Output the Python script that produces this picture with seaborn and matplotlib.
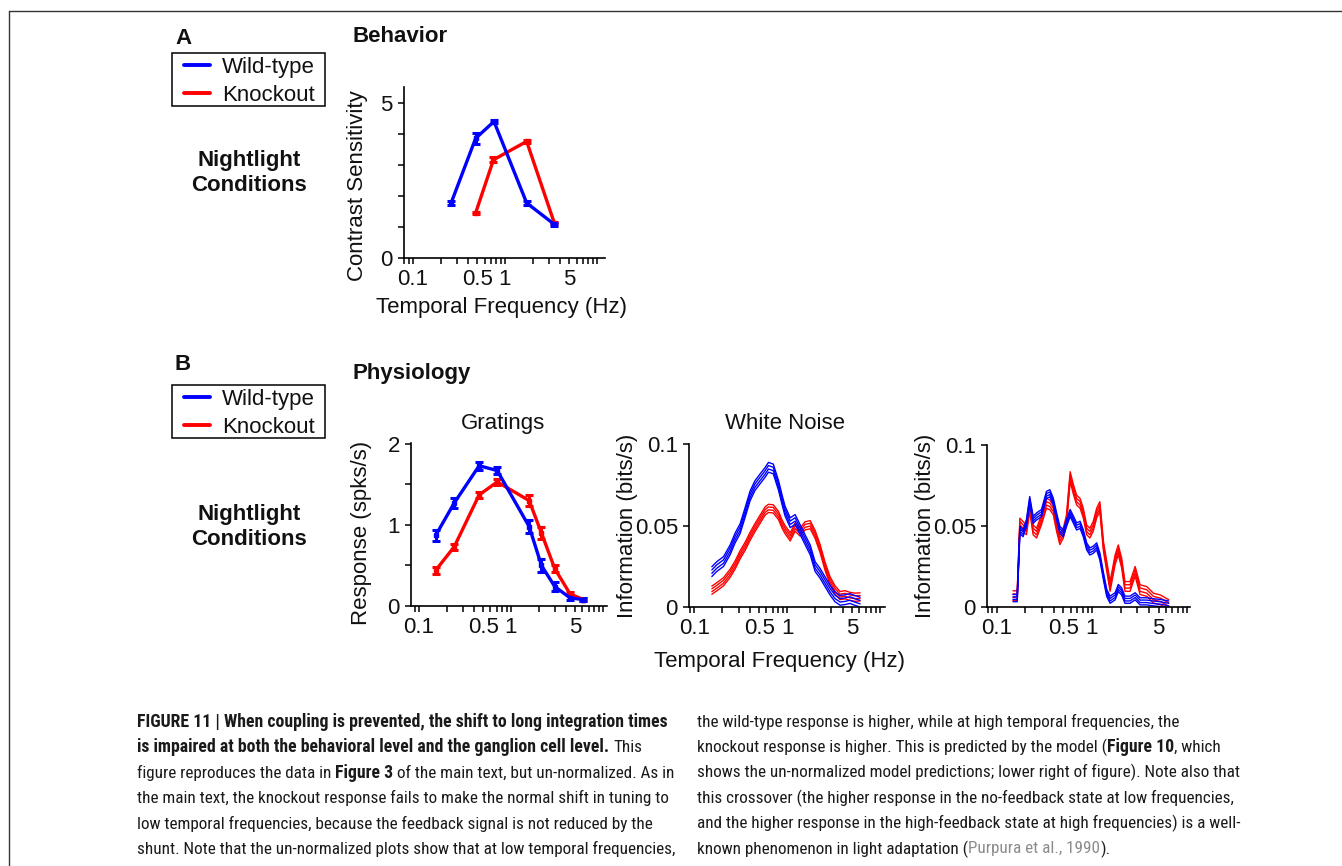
import os
import numpy as np
import pandas as pd
import matplotlib
matplotlib.use("Agg")
import matplotlib.pyplot as plt
import seaborn as sns
from matplotlib.lines import Line2D
from matplotlib.patches import Rectangle
from matplotlib.ticker import LogLocator, NullFormatter, FixedLocator
from matplotlib import font_manager
from matplotlib.font_manager import FontProperties

# ---- data ----
# A: behaviour (contrast sensitivity)
beh_f_wt = [0.26, 0.48, 0.76, 1.72, 3.44]
beh_wt = [1.77, 3.85, 4.39, 1.77, 1.08]
beh_wt_err = [0.06, 0.17, 0.05, 0.06, 0.06]
beh_f_ko = [0.48, 0.75, 1.72, 3.44]
beh_ko = [1.45, 3.16, 3.75, 1.12]
beh_ko_err = [0.04, 0.08, 0.04, 0.04]

# B: gratings
gr_f = [0.152, 0.242, 0.452, 0.71, 1.58, 2.15, 3.0, 4.4, 6.1]
gr_wt = [0.87, 1.27, 1.73, 1.67, 0.98, 0.50, 0.24, 0.10, 0.08]
gr_wt_err = [0.07, 0.06, 0.05, 0.04, 0.08, 0.08, 0.05, 0.03, 0.02]
gr_ko = [0.44, 0.73, 1.37, 1.53, 1.30, 0.90, 0.46, 0.15, 0.08]
gr_ko_err = [0.04, 0.04, 0.04, 0.04, 0.07, 0.07, 0.04, 0.02, 0.02]

# B: white noise information
wn_f = [0.155, 0.175, 0.207, 0.244, 0.276, 0.312, 0.353, 0.40, 0.45, 0.51,
        0.58, 0.63, 0.71, 0.81, 0.88, 0.95, 1.08, 1.22, 1.38, 1.56,
        1.77, 2.0, 2.26, 2.56, 2.9, 3.28, 3.71, 4.2, 4.75, 5.38, 6.1]
wn_wt = [0.0217, 0.0248, 0.0279, 0.0351, 0.0424, 0.0480, 0.0579, 0.0682, 0.0744, 0.0785,
         0.0826, 0.0857, 0.0847, 0.0744, 0.0660, 0.0589, 0.0517, 0.0537, 0.0475, 0.0413,
         0.0351, 0.0248, 0.0207, 0.0155, 0.0103, 0.0062, 0.0041, 0.0045, 0.0052, 0.0040, 0.0030]
wn_ko = [0.0103, 0.0124, 0.0155, 0.0207, 0.0258, 0.0320, 0.0372, 0.0434, 0.0486, 0.0537,
         0.0589, 0.0605, 0.0602, 0.0560, 0.0510, 0.0475, 0.0430, 0.0490, 0.0460, 0.0498,
         0.0505, 0.0445, 0.0360, 0.0250, 0.0160, 0.0105, 0.0070, 0.0075, 0.0065, 0.0060, 0.0062]
wn_sem_wt = 0.0030
wn_sem_ko = 0.0025

# B: white noise, third panel
wn2_f = [0.148, 0.164, 0.175, 0.189, 0.205, 0.222, 0.241, 0.262, 0.295, 0.333,
         0.361, 0.392, 0.425, 0.46, 0.50, 0.54, 0.59, 0.64, 0.69, 0.75,
         0.81, 0.88, 0.95, 1.03, 1.12, 1.21, 1.32, 1.43, 1.55, 1.75,
         1.89, 2.05, 2.22, 2.51, 2.84, 3.2, 3.76, 4.42, 5.2, 6.4]
wn2_wt = [0.0055, 0.0055, 0.0476, 0.0456, 0.0518, 0.0660, 0.0538, 0.0559, 0.0580, 0.0692,
          0.0702, 0.0651, 0.0559, 0.0476, 0.0456, 0.0518, 0.0580, 0.0538, 0.0497, 0.0507,
          0.0456, 0.0374, 0.0343, 0.0353, 0.0374, 0.0312, 0.0189, 0.0086, 0.0045, 0.0066,
          0.0117, 0.0096, 0.0045, 0.0045, 0.0066, 0.0035, 0.0035, 0.0029, 0.0025, 0.0015]
wn2_ko = [0.0070, 0.0070, 0.0518, 0.0497, 0.0476, 0.0620, 0.0476, 0.0456, 0.0538, 0.0640,
          0.0630, 0.0600, 0.0497, 0.0415, 0.0456, 0.0538, 0.0805, 0.0723, 0.0660, 0.0640,
          0.0580, 0.0476, 0.0456, 0.0497, 0.0580, 0.0620, 0.0374, 0.0251, 0.0127, 0.0292,
          0.0353, 0.0271, 0.0127, 0.0127, 0.0220, 0.0107, 0.0096, 0.0055, 0.0045, 0.0015]
wn2_sem_wt = 0.0022
wn2_sem_ko = 0.0030

genotypes = ["Wild-type", "Knockout"]
colors = {"Wild-type": "#0000ff", "Knockout": "#ff0000"}
freq_ticks = [0.1, 0.5, 1, 5]
freq_labels = ["0.1", "0.5", "1", "5"]

# ---- style ----
sns.set_theme(style="ticks")
plt.rcParams["font.family"] = ["Liberation Sans", "DejaVu Sans"]
plt.rcParams["axes.linewidth"] = 1.2

W, H = 1342, 866
fig = plt.figure(figsize=(W / 100, H / 100), dpi=100)


def px(x, y):
    return x / W, 1 - y / H


def ax_at(l, t, r, b):
    return fig.add_axes([l / W, 1 - b / H, (r - l) / W, (b - t) / H])


def style_axes(ax, xlim, ylim, yticks, ylabels, yminor=None):
    ax.set_xscale("log")
    ax.set_xlim(xlim)
    ax.set_ylim(ylim)
    ax.set_facecolor("white")
    ax.grid(False)
    ax.xaxis.set_major_locator(FixedLocator(freq_ticks))
    ax.set_xticklabels(freq_labels)
    ax.xaxis.set_minor_locator(LogLocator(base=10, subs=np.arange(1, 10), numticks=20))
    ax.xaxis.set_minor_formatter(NullFormatter())
    ax.set_yticks(yticks)
    ax.set_yticklabels(ylabels)
    if yminor is not None:
        ax.yaxis.set_minor_locator(FixedLocator(yminor))
    sns.despine(ax=ax)
    for s in ("left", "bottom"):
        ax.spines[s].set_color("black")
        ax.spines[s].set_linewidth(1.2)
    ax.tick_params(which="both", direction="out", length=4, width=1.1,
                   color="black", labelsize=16, pad=4, labelcolor="#111111")
    ax.set_xlabel("")
    ax.set_ylabel("")


def err_line(ax, f, y, e, c):
    ax.errorbar(f, y, yerr=e, color=c, lw=2.4, elinewidth=2.2, capsize=3,
                capthick=2.2, marker="s", ms=3.5, mec=c, mfc=c, zorder=3)


def bundle(ax, f, mean, sem, genotype):
    rows = []
    for k in (-1.0, -0.35, 0.35, 1.0):
        for fi, m in zip(f, mean):
            rows.append({"freq": fi, "info": m + k * sem, "trace": k})
    df = pd.DataFrame(rows)
    sns.lineplot(data=df, x="freq", y="info", units="trace", estimator=None,
                 color=colors[genotype], lw=1.0, ax=ax, legend=False, sort=False)


# ---- A: behaviour ----
axA = ax_at(404, 87, 605, 258)
err_line(axA, beh_f_ko, beh_ko, beh_ko_err, colors["Knockout"])
err_line(axA, beh_f_wt, beh_wt, beh_wt_err, colors["Wild-type"])
style_axes(axA, (0.08, 12.2), (0, 5.5), [0, 5], ["0", "5"], [1, 2, 3, 4])

# ---- B: gratings ----
axG = ax_at(411, 443, 607, 606)
err_line(axG, gr_f, gr_ko, gr_ko_err, colors["Knockout"])
err_line(axG, gr_f, gr_wt, gr_wt_err, colors["Wild-type"])
style_axes(axG, (0.082, 11.1), (0, 2.01), [0, 1, 2], ["0", "1", "2"], [0.5, 1.5])

# ---- B: white noise ----
axW = ax_at(689, 444, 885, 607)
bundle(axW, wn_f, wn_ko, wn_sem_ko, "Knockout")
bundle(axW, wn_f, wn_wt, wn_sem_wt, "Wild-type")
style_axes(axW, (0.088, 11.3), (0, 0.1), [0, 0.05, 0.1], ["0", "0.05", "0.1"])

axW2 = ax_at(987, 445, 1190, 607)
bundle(axW2, wn2_f, wn2_ko, wn2_sem_ko, "Knockout")
bundle(axW2, wn2_f, wn2_wt, wn2_sem_wt, "Wild-type")
style_axes(axW2, (0.079, 10.7), (0, 0.1), [0, 0.05, 0.1], ["0", "0.05", "0.1"])

# ---- labels ----
def ftext(x, y, s, **kw):
    kw.setdefault("fontsize", 16)
    kw.setdefault("color", "#111111")
    fig.text(*px(x, y), s, **kw)


ftext(358, 186, "Contrast Sensitivity", rotation=90, ha="center", va="center")
ftext(362, 533, "Response (spks/s)", rotation=90, ha="center", va="center")
ftext(627, 526, "Information (bits/s)", rotation=90, ha="center", va="center")
ftext(925, 526, "Information (bits/s)", rotation=90, ha="center", va="center")
ftext(501, 307, "Temporal Frequency (Hz)", ha="center", va="center")
ftext(779, 661, "Temporal Frequency (Hz)", ha="center", va="center")
ftext(503, 423, "Gratings", ha="center", va="center")
ftext(785, 423, "White Noise", ha="center", va="center")

ftext(183, 38, "A", ha="center", va="center", fontweight="bold")
ftext(183, 364, "B", ha="center", va="center", fontweight="bold")
ftext(352, 37, "Behavior", ha="left", va="center", fontweight="bold")
ftext(352, 373, "Physiology", ha="left", va="center", fontweight="bold")
ftext(249, 173, "Nightlight\nConditions", ha="center", va="center",
      fontweight="bold", linespacing=1.2)
ftext(249, 527, "Nightlight\nConditions", ha="center", va="center",
      fontweight="bold", linespacing=1.2)

# legends: frame drawn as a box, entries placed inside it
handles = [Line2D([], [], color=colors[g], lw=2.8) for g in genotypes]
for top in (53, 385):
    fig.add_artist(Rectangle(px(172, top + 53), 153 / W, 53 / H, fill=False,
                             edgecolor="black", lw=1.1))
    leg = fig.legend(handles, genotypes, loc="upper left",
                     bbox_to_anchor=px(184, top + 4),
                     frameon=False, fontsize=16, handlelength=1.15,
                     handletextpad=0.55, borderpad=0, labelspacing=0.3,
                     borderaxespad=0)
    for t in leg.get_texts():
        t.set_color("#111111")

# frame around the figure panel
fig.add_artist(Line2D([9 / W, 9 / W], [0, 1 - 11 / H], color="#333333", lw=1.0))
fig.add_artist(Line2D([9 / W, 1], [1 - 11 / H, 1 - 11 / H], color="#333333", lw=1.0))


# ---- caption (condensed face if one is installed) ----
def find_face(keys, bold):
    for key in keys:
        for fe in font_manager.fontManager.ttflist:
            base = os.path.basename(fe.fname).lower()
            if key in base and ("bold" in base) == bold and "italic" not in base \
                    and "oblique" not in base and "light" not in base \
                    and "medium" not in base and "black" not in base \
                    and "thin" not in base and "semi" not in base:
                return FontProperties(fname=fe.fname)
    return None


narrow_keys = ["liberationsansnarrow", "robotocondensed", "roboto_condensed",
               "dejavusanscondensed"]
fp_reg = find_face(narrow_keys, False)
fp_bold = find_face(narrow_keys, True)
if fp_reg is None or fp_bold is None:
    fp_reg = FontProperties(family=["Liberation Sans", "DejaVu Sans"])
    fp_bold = FontProperties(family=["Liberation Sans", "DejaVu Sans"], weight="bold")

renderer = fig.canvas.get_renderer()
faces = {"normal": fp_reg, "bold": fp_bold}


def measure(s, weight, size):
    t = fig.text(0, 0, s, fontproperties=faces[weight], fontsize=size)
    w = t.get_window_extent(renderer=renderer).width
    t.remove()
    return w


first_line = "FIGURE 11 | When coupling is prevented, the shift to long integration times"
ref_line = "the main text, the knockout response fails to make the normal shift in tuning to"
sizes = {"bold": min(13.5, 10 * 529 / measure(first_line, "bold", 10)),
         "normal": min(13.5, 10 * 528 / measure(ref_line, "normal", 10))}


def caption_line(x, y, parts):
    for s, weight, color in parts:
        size = sizes[weight]
        lead = len(s) - len(s.lstrip(" "))
        if lead:
            x += measure("aa" + " " * lead + "a", weight, size) - measure("aaa", weight, size)
        body = s.strip(" ")
        if body:
            fig.text(*px(x, y), body, fontproperties=faces[weight], fontsize=size,
                     color=color, ha="left", va="center")
            x += measure(body, weight, size)
        trail = len(s) - len(s.rstrip(" "))
        if trail:
            x += measure("aa" + " " * trail + "a", weight, size) - measure("aaa", weight, size)


dark = "#1a1a1a"
left_lines = [
    [(first_line, "bold", dark)],
    [("is impaired at both the behavioral level and the ganglion cell level.", "bold", dark),
     (" This", "normal", dark)],
    [("figure reproduces the data in ", "normal", dark), ("Figure 3", "bold", dark),
     (" of the main text, but un-normalized. As in", "normal", dark)],
    [(ref_line, "normal", dark)],
    [("low temporal frequencies, because the feedback signal is not reduced by the", "normal", dark)],
    [("shunt. Note that the un-normalized plots show that at low temporal frequencies,", "normal", dark)],
]
right_lines = [
    [("the wild-type response is higher, while at high temporal frequencies, the", "normal", dark)],
    [("knockout response is higher. This is predicted by the model (", "normal", dark),
     ("Figure 10", "bold", dark), (", which", "normal", dark)],
    [("shows the un-normalized model predictions; lower right of figure). Note also that", "normal", dark)],
    [("this crossover (the higher response in the no-feedback state at low frequencies,", "normal", dark)],
    [("and the higher response in the high-feedback state at high frequencies) is a well-", "normal", dark)],
    [("known phenomenon in light adaptation (", "normal", dark),
     ("Purpura et al., 1990", "normal", "#8c8c8c"), (").", "normal", dark)],
]
for i, parts in enumerate(left_lines):
    caption_line(137, 722 + 25.4 * i, parts)
for i, parts in enumerate(right_lines):
    caption_line(697, 722 + 25.4 * i, parts)

fig.savefig("out.png", dpi=100, facecolor="white")
